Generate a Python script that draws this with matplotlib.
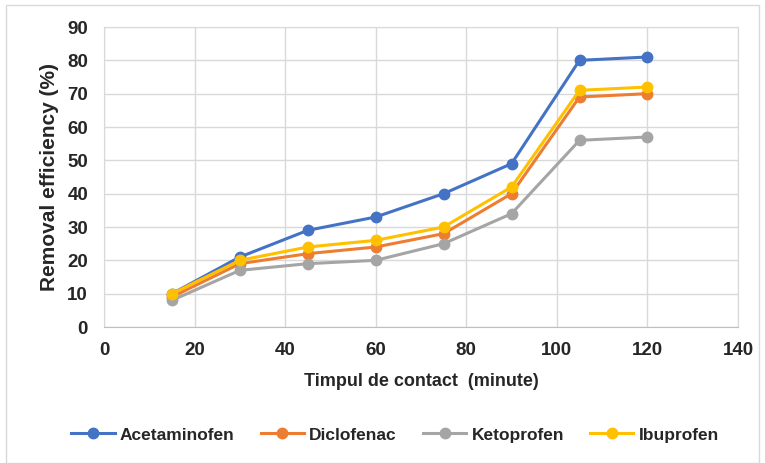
import matplotlib
matplotlib.use("Agg")
import matplotlib.pyplot as plt
from matplotlib.patches import Rectangle

time_min = [15, 30, 45, 60, 75, 90, 105, 120]
acetaminofen = [10, 21, 29, 33, 40, 49, 80, 81]
diclofenac = [9, 19, 22, 24, 28, 40, 69, 70]
ketoprofen = [8, 17, 19, 20, 25, 34, 56, 57]
ibuprofen = [10, 20, 24, 26, 30, 42, 71, 72]
series_names = ["Acetaminofen", "Diclofenac", "Ketoprofen", "Ibuprofen"]
x_ticks = [0, 20, 40, 60, 80, 100, 120, 140]
y_ticks = [0, 10, 20, 30, 40, 50, 60, 70, 80, 90]

colors = ["#4472C4", "#ED7D31", "#A5A5A5", "#FFC000"]

fig = plt.figure(figsize=(7.65, 4.63), dpi=100)
fig.patches.append(Rectangle((6/765, 0), 1 - 12/765, 1 - 5/463, transform=fig.transFigure,
                             fill=False, edgecolor="#D9D9D9", linewidth=1))
ax = fig.add_axes([104/765, 1 - 327/463, (738-104)/765, (327-27)/463])

for vals, name, c in zip([acetaminofen, diclofenac, ketoprofen, ibuprofen], series_names, colors):
    ax.plot(time_min, vals, color=c, linewidth=2.2, marker="o", markersize=7.5, label=name, zorder=3)

ax.set_xlim(0, 140)
ax.set_ylim(0, 90)
ax.set_xticks(x_ticks)
ax.set_yticks(y_ticks)
ax.grid(True, color="#D9D9D9", linewidth=1)
ax.set_axisbelow(True)
for s in ax.spines.values():
    s.set_color("#D9D9D9")
ax.spines["bottom"].set_color("#BFBFBF")
ax.tick_params(axis="y", length=0, pad=11.5)
ax.tick_params(axis="x", length=0, pad=11)
for lbl in ax.get_xticklabels() + ax.get_yticklabels():
    lbl.set_fontfamily("Liberation Sans")
    lbl.set_fontweight("bold")
    lbl.set_fontsize(13.5)
    lbl.set_color("#262626")

ax.set_xlabel("Timpul de contact  (minute)", fontfamily="Liberation Sans", fontweight="bold", fontsize=13,
              color="#262626", labelpad=10)
ax.set_ylabel("Removal efficiency (%)", fontfamily="Liberation Sans", fontweight="bold", fontsize=15,
              color="#262626", labelpad=6)

leg = fig.legend(loc="center", bbox_to_anchor=(395/765, 1 - 435/463), ncol=4, frameon=False,
                 prop={"family": "Liberation Sans", "weight": "bold", "size": 12.5}, handlelength=2.5,
                 columnspacing=1.5, handletextpad=0.3)
for t in leg.get_texts():
    t.set_color("#262626")

fig.savefig("out.png", dpi=100)
